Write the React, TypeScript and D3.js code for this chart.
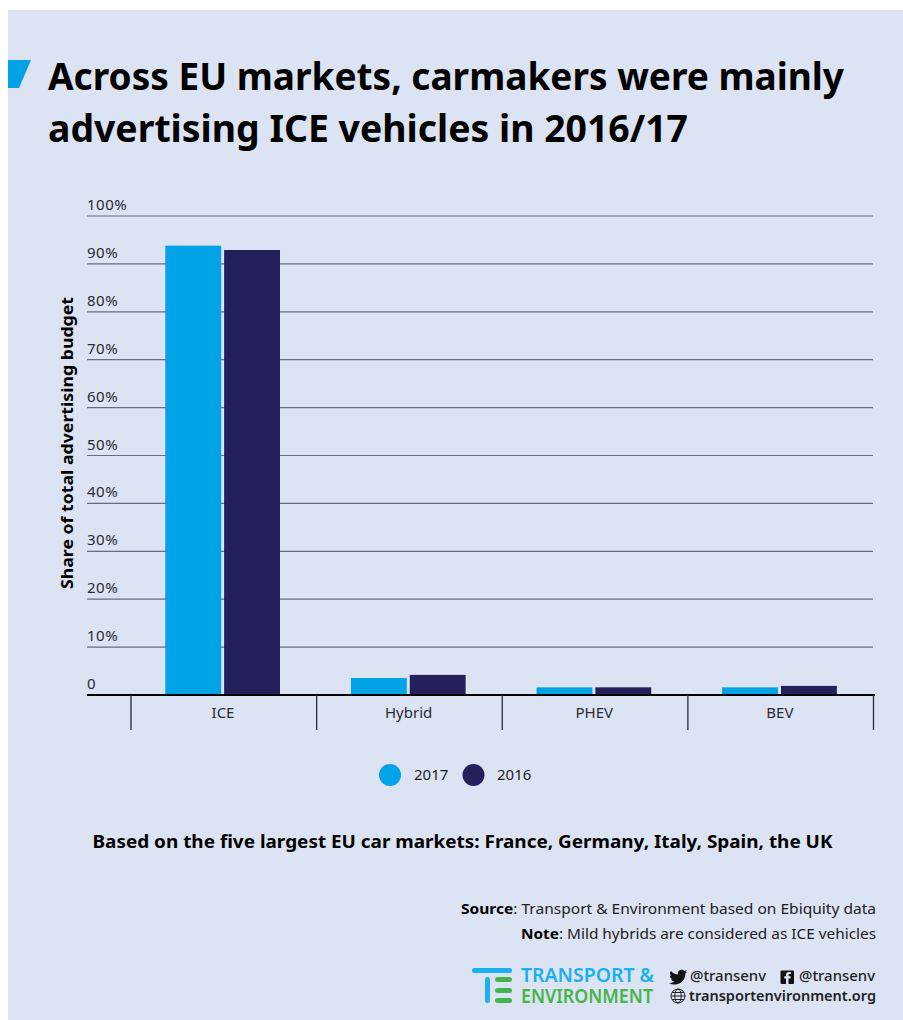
import React from "react";
import * as d3 from "d3";

const categories = ["ICE", "Hybrid", "PHEV", "BEV"];
const years = ["2017", "2016"];
const values2017 = [93.8, 3.55, 1.6, 1.6];
const values2016 = [92.9, 4.2, 1.6, 1.9];
const yTicks = [0, 10, 20, 30, 40, 50, 60, 70, 80, 90, 100];
const titleLines = ["Across EU markets, carmakers were mainly", "advertising ICE vehicles in 2016/17"];

const BLUE = "#00a3e6";
const NAVY = "#24205c";
const PANEL = "#dce3f3";
const FONT = "'Noto Sans', sans-serif";

const y = d3.scaleLinear().domain([0, 100]).range([695, 216]);
const x0 = d3.scaleBand<string>().domain(categories).range([131, 873.5]).paddingInner(0).paddingOuter(0);
const x1 = d3.scaleBand<string>().domain(years).range([34.3, 149]).paddingInner(0.05);

export default function App() {
  const series = [values2017, values2016];
  const edges = [...categories.map((c) => x0(c)!), 873.5];
  return (
    <svg
      width={903}
      height={1020}
      style={{ position: "absolute", left: 0, top: 0, display: "block" }}
      fontFamily={FONT}
    >
      <rect x={8} y={10} width={895} height={1010} fill={PANEL} />
      <polygon points="8,60 31,60 19,88 8,88" fill={BLUE} />
      {titleLines.map((t, i) => (
        <text key={t} x={48} y={90 + i * 52} fontSize={37.5} fontWeight={700} fill="#000" textLength={i === 0 ? 796 : 640} lengthAdjust="spacingAndGlyphs">
          {t}
        </text>
      ))}

      {yTicks.map((t) => (
        <g key={t}>
          {t > 0 && <line x1={87} x2={873} y1={y(t)} y2={y(t)} stroke="#6b6d78" strokeWidth={1.2} />}
          <text x={87} y={y(t) - 6} fontSize={15} letterSpacing={0.5} fill="#2b2b33">
            {t === 0 ? "0" : `${t}%`}
          </text>
        </g>
      ))}
      <text
        transform="translate(73,443) rotate(-90)"
        textAnchor="middle"
        fontSize={16.5}
        fontWeight={700}
        fill="#000"
        textLength={292}
        lengthAdjust="spacingAndGlyphs"
      >
        Share of total advertising budget
      </text>

      {categories.map((c, i) =>
        years.map((yr, j) => (
          <rect
            key={c + yr}
            x={x0(c)! + x1(yr)!}
            y={y(series[j][i])}
            width={x1.bandwidth()}
            height={y(0) - y(series[j][i])}
            fill={j === 0 ? BLUE : NAVY}
          />
        ))
      )}

      <line x1={87} x2={875} y1={695} y2={695} stroke="#000" strokeWidth={2.2} />
      {edges.map((e) => (
        <line key={e} x1={e} x2={e} y1={695} y2={730} stroke="#2b2b33" strokeWidth={1.3} />
      ))}
      {categories.map((c) => (
        <text key={c} x={x0(c)! + x0.bandwidth() / 2 - 0.8} y={718} textAnchor="middle" fontSize={15} fill="#2b2b33">
          {c}
        </text>
      ))}

      <circle cx={390} cy={775} r={11} fill={BLUE} />
      <text x={414} y={780} fontSize={15} fill="#1c1c22">{years[0]}</text>
      <circle cx={473.5} cy={775} r={11} fill={NAVY} />
      <text x={497} y={780} fontSize={15} fill="#1c1c22">{years[1]}</text>

      <text x={462.5} y={848} textAnchor="middle" fontSize={17.5} fontWeight={700} fill="#000" textLength={740} lengthAdjust="spacingAndGlyphs">
        Based on the five largest EU car markets: France, Germany, Italy, Spain, the UK
      </text>

      <text x={876} y={914} textAnchor="end" fontSize={14.5} fill="#1c1c22" textLength={415} lengthAdjust="spacingAndGlyphs">
        <tspan fontWeight={700} fill="#000">Source</tspan>: Transport &amp; Environment based on Ebiquity data
      </text>
      <text x={876} y={939} textAnchor="end" fontSize={14.5} fill="#1c1c22" textLength={355} lengthAdjust="spacingAndGlyphs">
        <tspan fontWeight={700} fill="#000">Note</tspan>: Mild hybrids are considered as ICE vehicles
      </text>

      {/* Organisation mark */}
      <rect x={472} y={968} width={40} height={5} rx={2.5} fill="#1bb0ee" />
      <rect x={485} y={977} width={5} height={26} rx={2.5} fill="#1bb0ee" />
      <rect x={495} y={977} width={17} height={5} rx={2.5} fill="#44b54a" />
      <rect x={495} y={988} width={17} height={5} rx={2.5} fill="#44b54a" />
      <rect x={495} y={998} width={17} height={5} rx={2.5} fill="#44b54a" />
      <text x={521} y={982} fontSize={20} fontWeight={600} fill="#1bb0ee" textLength={133} lengthAdjust="spacingAndGlyphs">TRANSPORT &amp;</text>
      <text x={521} y={1003} fontSize={20} fontWeight={600} fill="#44b54a" textLength={132} lengthAdjust="spacingAndGlyphs">ENVIRONMENT</text>

      {/* Social icons */}
      <path
        transform="translate(0,-2.5)"
        d="M671 973.5c1.8 2.2 4 3.4 6.8 3.6-.5-2.6 1.3-4.8 3.8-4.8 1.1 0 2.1.5 2.8 1.2.9-.2 1.7-.5 2.4-.9-.3.9-.9 1.6-1.6 2.1.7-.1 1.4-.3 2.1-.6-.5.8-1.1 1.4-1.9 2 .2 5.6-4 11-10.6 11-2 0-3.9-.6-5.5-1.6 1.9.2 3.8-.3 5.2-1.4-1.6 0-2.9-1.1-3.4-2.5.6.1 1.1.1 1.6-.1-1.7-.3-3-1.9-2.9-3.6.5.3 1 .4 1.6.5-1.5-1.1-2-3.3-.4-4.9z"
        fill="#111"
      />
      <text x={690} y={981} fontSize={14} fontWeight={500} fill="#222" textLength={76} lengthAdjust="spacingAndGlyphs">@transenv</text>
      <rect x={780.5} y={970.5} width={13.5} height={13.5} rx={1} fill="#111" />
      <path d="M788.5 984v-5.5h2l.3-2.2h-2.3v-1.4c0-.7.3-1 1-1h1.4v-2h-1.9c-2 0-3 1.1-3 3v1.4h-1.7v2.2h1.7v5.5z" fill={PANEL} />
      <text x={799} y={981} fontSize={14} fontWeight={500} fill="#222" textLength={76} lengthAdjust="spacingAndGlyphs">@transenv</text>
      <g fill="none" stroke="#222" strokeWidth={1}>
        <circle cx={678} cy={996} r={7} />
        <ellipse cx={678} cy={996} rx={3.2} ry={7} />
        <line x1={671} x2={685} y1={996} y2={996} />
        <line x1={672} x2={684} y1={992.5} y2={992.5} />
        <line x1={672} x2={684} y1={999.5} y2={999.5} />
      </g>
      <text x={689} y={1001} fontSize={14} fontWeight={600} fill="#222" textLength={187} lengthAdjust="spacingAndGlyphs">transportenvironment.org</text>
    </svg>
  );
}
